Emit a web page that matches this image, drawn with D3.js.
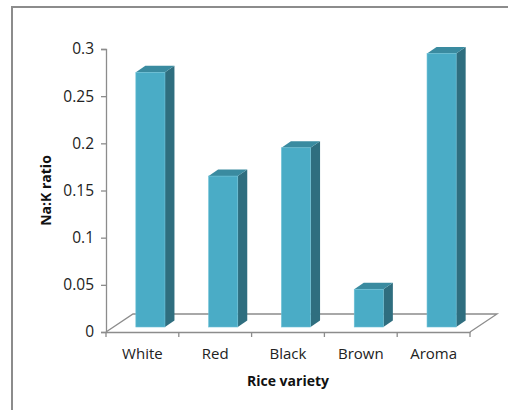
<!DOCTYPE html>
<html>
<head>
<meta charset="utf-8">
<script src="https://cdn.jsdelivr.net/npm/d3@7"></script>
<style>
  body { margin: 0; background: #fff; }
  svg { display: block; font-family: "Open Sans", sans-serif; }
</style>
</head>
<body>
<svg class="barchart" width="508" height="410"></svg>
<script>

// data
let varieties = ["White", "Red", "Black", "Brown", "Aroma"];
let ratios = [0.27, 0.16, 0.19, 0.04, 0.29];
let yTicks = [0, 0.05, 0.1, 0.15, 0.2, 0.25, 0.3];

let svg = d3.select(".barchart");

// outer chart frame (runs off the right/bottom edge)
svg.append("rect")
  .attr("x", 12).attr("y", 7)
  .attr("width", 520).attr("height", 420)
  .attr("fill", "#fff")
  .attr("stroke", "#8c8c8c")
  .attr("stroke-width", 2);

let plot = { left: 106, right: 470, top: 49, bottom: 332 };

// depth of the floor and of each bar (pseudo 3d)
let floorDepth = [27, -18];
let barShift = [8, -5];
let barDepth = [9.5, -6.5];

let y = d3.scaleLinear()
  .domain([0, 0.3])
  .range([plot.bottom, plot.top]);

let x = d3.scaleBand()
  .domain(varieties)
  .range([plot.left, plot.right])
  .padding(0);

let barWidth = x.bandwidth() * 0.4;

// floor
let floor = d3.path();
floor.moveTo(plot.left, plot.bottom);
floor.lineTo(plot.left + floorDepth[0], plot.bottom + floorDepth[1]);
floor.lineTo(plot.right + floorDepth[0], plot.bottom + floorDepth[1]);
floor.lineTo(plot.right, plot.bottom);
svg.append("path")
  .attr("d", floor.toString())
  .attr("fill", "none")
  .attr("stroke", "#8c8c8c")
  .attr("stroke-width", 1.3);

// bars
let bars = svg.append("g").attr("id", "bars")
  .selectAll("g")
  .data(varieties.map((v, i) => ({ name: v, value: ratios[i] })))
  .join("g");

let fx = d => x(d.name) + x.bandwidth() / 2 - barWidth / 2 + barShift[0];
let fyTop = d => y(d.value) + barShift[1];
let fyBot = d => y(0) + barShift[1];

// side face
bars.append("path")
  .attr("fill", "#2f6e7f")
  .attr("d", d => {
    let x1 = fx(d) + barWidth;
    return "M" + x1 + "," + fyBot(d) +
      "L" + (x1 + barDepth[0]) + "," + (fyBot(d) + barDepth[1]) +
      "L" + (x1 + barDepth[0]) + "," + (fyTop(d) + barDepth[1]) +
      "L" + x1 + "," + fyTop(d) + "Z";
  });

// top face
bars.append("path")
  .attr("fill", "#3a8ba0")
  .attr("d", d => {
    let x0 = fx(d);
    return "M" + x0 + "," + fyTop(d) +
      "L" + (x0 + barDepth[0]) + "," + (fyTop(d) + barDepth[1]) +
      "L" + (x0 + barWidth + barDepth[0]) + "," + (fyTop(d) + barDepth[1]) +
      "L" + (x0 + barWidth) + "," + fyTop(d) + "Z";
  });

// front face
bars.append("rect")
  .attr("x", fx)
  .attr("y", fyTop)
  .attr("width", barWidth)
  .attr("height", d => fyBot(d) - fyTop(d))
  .attr("fill", "#4aacc6")
  .attr("stroke", "#6cc0d6")
  .attr("stroke-width", 0.6);

// y axis
let yAxis = d3.axisLeft(y)
  .tickValues(yTicks)
  .tickFormat(d => d === 0 ? "0" : String(+d.toFixed(2)))
  .tickSize(5)
  .tickPadding(7);

let yGroup = svg.append("g")
  .attr("transform", "translate(" + plot.left + ",0)")
  .call(yAxis);
yGroup.select(".domain").attr("stroke", "#8c8c8c").attr("stroke-width", 1.3);
yGroup.selectAll(".tick line").attr("stroke", "#8c8c8c").attr("stroke-width", 1.3);
yGroup.selectAll(".tick text")
  .attr("fill", "#222")
  .style("font-size", "15.5px")
  .style("font-family", "Open Sans");

// x axis (labels at band centres, ticks at band edges)
let xAxis = d3.axisBottom(x).tickSize(0).tickPadding(16);
let xGroup = svg.append("g")
  .attr("transform", "translate(0," + plot.bottom + ")")
  .call(xAxis);
xGroup.select(".domain").attr("stroke", "#8c8c8c").attr("stroke-width", 1.3);
xGroup.selectAll(".tick text")
  .attr("fill", "#222")
  .style("font-size", "15px")
  .style("font-family", "Open Sans");

xGroup.selectAll(".sep")
  .data(varieties.map(v => x(v)).concat([plot.right]))
  .join("line")
  .attr("class", "sep")
  .attr("x1", d => d).attr("x2", d => d)
  .attr("y1", 0).attr("y2", 5)
  .attr("stroke", "#8c8c8c")
  .attr("stroke-width", 1.3);

// axis titles
svg.append("text")
  .attr("x", (plot.left + plot.right) / 2)
  .attr("y", 386)
  .attr("text-anchor", "middle")
  .style("font-weight", "bold")
  .style("font-size", "14px")
  .attr("fill", "#111")
  .text("Rice variety");

svg.append("text")
  .attr("transform", "translate(51," + ((plot.top + plot.bottom) / 2) + ") rotate(-90)")
  .attr("text-anchor", "middle")
  .style("font-weight", "bold")
  .style("font-size", "14px")
  .attr("fill", "#111")
  .text("Na:K ratio");

</script>
</body>
</html>
